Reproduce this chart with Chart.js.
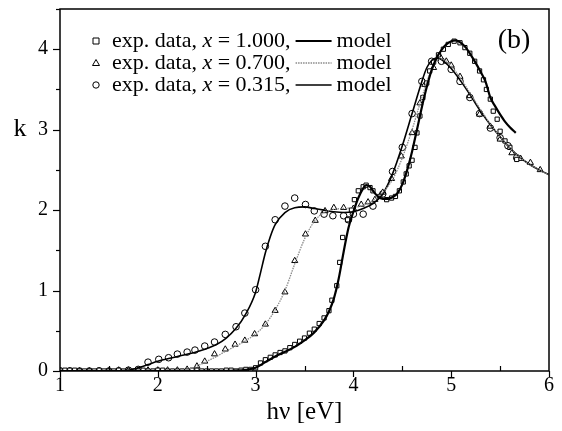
<!DOCTYPE html>
<html>
<head>
<meta charset="utf-8">
<script src="https://cdn.jsdelivr.net/npm/chart.js@4"></script>
<style>
  html, body { margin: 0; padding: 0; background: #fff; }
  #wrap { width: 562px; height: 431px; position: relative; }
</style>
</head>
<body>
<div id="wrap"><canvas id="c" width="562" height="431"></canvas></div>
<script>
// ---------- data ----------
const xTickLabels = ['1', '2', '3', '4', '5', '6'];
const yTickLabels = ['0', '1', '2', '3', '4'];
const legendLabels = ['exp. data, ', 'exp. data, ', 'exp. data, '];
const legendX = ['1.000,', '0.700,', '0.315,'];

// exp. data, x = 1.000 (squares)
const exp100X = [1.00,1.05,1.10,1.15,1.20,1.25,1.30,1.35,1.40,1.45,1.50,1.55,1.60,1.65,1.70,1.75,1.80,1.85,1.90,1.95,2.00,2.05,2.10,2.15,2.20,2.25,2.30,2.35,2.40,2.45,2.50,2.55,2.60,2.65,2.70,2.75,2.80,2.85,2.90,2.95,
  3.00,3.05,3.10,3.15,3.20,3.25,3.30,3.35,3.40,3.45,3.50,3.55,3.60,3.65,3.70,3.75,3.78,3.83,3.86,3.89,3.94,3.98,4.01,4.05,4.10,4.13,4.17,4.20,4.27,4.34,4.39,4.43,4.47,4.51,4.54,4.57,4.60,4.63,4.65,4.68,4.71,4.75,4.78,4.82,4.87,4.92,4.97,5.03,5.09,5.14,5.19,5.24,5.29,5.33,5.36,5.40,5.43,5.47,5.50,5.55,5.60,5.67];
const exp100Y = [0.01,0.01,0.01,0.01,0.0,0.0,0.0,0.0,0.01,0.0,0.0,0.0,0.01,0.0,0.0,0.0,0.0,0.01,0.0,0.0,0.01,0.01,0.0,0.0,0.0,0.0,0.0,0.01,0.01,0.0,0.0,0.0,0.0,0.0,0.01,0.01,0.0,0.01,0.02,0.02,
  0.04,0.10,0.14,0.17,0.20,0.23,0.25,0.29,0.33,0.37,0.41,0.47,0.52,0.59,0.66,0.75,0.88,1.06,1.35,1.66,1.88,2.00,2.13,2.24,2.29,2.31,2.28,2.24,2.17,2.13,2.15,2.17,2.24,2.35,2.45,2.55,2.62,2.78,2.96,3.17,3.40,3.58,3.73,3.84,3.93,4.00,4.06,4.10,4.08,4.02,3.95,3.85,3.73,3.62,3.50,3.38,3.23,3.13,2.98,2.86,2.78,2.63];

// exp. data, x = 0.700 (triangles)
const exp070X = [1.0,1.1,1.2,1.3,1.4,1.5,1.6,1.7,1.8,1.9,2.0,2.1,2.2,2.3,2.40,2.48,2.58,2.69,2.79,2.89,2.99,3.10,3.20,3.30,3.40,3.51,3.61,3.71,3.80,3.90,4.00,4.08,4.15,4.22,4.30,4.39,4.49,4.60,4.68,4.73,4.82,4.89,4.95,5.00,5.09,5.19,5.29,5.40,5.50,5.62,5.71,5.81,5.91];
const exp070Y = [0.0,0.0,0.0,0.0,0.0,0.0,0.01,0.01,0.01,0.01,0.01,0.01,0.01,0.02,0.06,0.12,0.21,0.27,0.33,0.38,0.46,0.58,0.75,0.98,1.37,1.70,1.87,1.99,2.03,2.03,2.02,2.07,2.10,2.13,2.22,2.39,2.67,2.96,3.33,3.56,3.77,3.90,3.85,3.80,3.66,3.42,3.19,3.04,2.88,2.71,2.64,2.59,2.50];

// exp. data, x = 0.315 (circles)
const exp0315X = [1.0,1.1,1.2,1.3,1.4,1.5,1.6,1.7,1.8,1.90,2.01,2.11,2.20,2.30,2.38,2.48,2.58,2.69,2.80,2.89,3.00,3.10,3.20,3.30,3.40,3.51,3.60,3.70,3.79,3.90,3.95,4.00,4.10,4.20,4.30,4.40,4.50,4.60,4.70,4.80,4.90,5.00,5.09,5.19,5.29,5.40,5.50,5.58,5.67];
const exp0315Y = [0.0,0.0,0.0,0.0,0.0,0.0,0.0,0.01,0.02,0.11,0.145,0.165,0.21,0.235,0.26,0.31,0.36,0.455,0.55,0.72,1.01,1.55,1.88,2.05,2.15,2.07,1.99,1.95,1.93,1.93,1.88,1.95,1.95,2.05,2.20,2.48,2.78,3.20,3.60,3.85,3.85,3.75,3.60,3.40,3.20,3.02,2.90,2.80,2.65];

// model, x = 1.000
const model100X = [1.0,1.5,2.0,2.5,2.8,2.9,3.0,3.1,3.2,3.3,3.4,3.5,3.6,3.7,3.75,3.8,3.85,3.9,3.95,4.0,4.05,4.1,4.13,4.17,4.2,4.25,4.3,4.35,4.4,4.45,4.5,4.55,4.6,4.65,4.7,4.75,4.8,4.85,4.9,4.95,5.0,5.05,5.1,5.15,5.2,5.25,5.3,5.35,5.4,5.45,5.5,5.55,5.6,5.66];
const model100Y = [0,0,0,0,0.005,0.015,0.04,0.11,0.18,0.24,0.30,0.38,0.48,0.63,0.74,0.90,1.15,1.48,1.78,1.98,2.15,2.27,2.31,2.29,2.24,2.17,2.14,2.14,2.16,2.21,2.32,2.50,2.73,3.00,3.28,3.53,3.74,3.89,3.99,4.06,4.10,4.11,4.08,4.02,3.93,3.83,3.72,3.60,3.40,3.29,3.19,3.10,3.03,2.96];

// model, x = 0.700
const model070X = [1.0,1.5,2.0,2.3,2.4,2.5,2.6,2.7,2.8,2.9,3.0,3.1,3.2,3.3,3.4,3.5,3.6,3.7,3.8,3.9,4.0,4.1,4.2,4.3,4.4,4.5,4.6,4.7,4.8,4.85,4.9,4.95,5.0,5.1,5.2,5.3,5.4,5.5,5.6,5.7,5.8,5.9,6.0];
const model070Y = [0,0,0.005,0.02,0.06,0.12,0.18,0.25,0.31,0.38,0.46,0.58,0.76,1.0,1.33,1.64,1.86,1.97,2.01,2.02,2.03,2.06,2.12,2.22,2.38,2.65,3.0,3.4,3.75,3.85,3.88,3.85,3.79,3.63,3.44,3.25,3.07,2.91,2.77,2.66,2.57,2.50,2.44];

// model, x = 0.315
const model0315X = [1.0,1.5,1.7,1.8,1.9,2.0,2.2,2.4,2.6,2.7,2.8,2.9,3.0,3.05,3.1,3.15,3.2,3.3,3.4,3.5,3.6,3.7,3.8,3.9,4.0,4.1,4.2,4.3,4.4,4.5,4.6,4.7,4.75,4.8,4.85,4.9,5.0,5.1,5.2,5.3,5.4,5.5,5.6,5.7,5.8,5.9,6.0];
const model0315Y = [0,0,0.01,0.04,0.08,0.12,0.18,0.24,0.33,0.41,0.53,0.71,0.98,1.22,1.47,1.67,1.82,1.97,2.03,2.04,2.02,2.00,1.98,1.97,1.98,2.02,2.08,2.20,2.45,2.80,3.20,3.60,3.77,3.86,3.89,3.87,3.76,3.60,3.42,3.23,3.06,2.91,2.77,2.66,2.57,2.50,2.44];

// ---------- helpers ----------
const zip = (xs, ys) => xs.map((x, i) => ({ x: x, y: ys[i] }));
const SERIF = '"Liberation Serif", "DejaVu Serif", serif';

const expStyle = (style, r) => ({
  showLine: false, pointStyle: style, pointRadius: r, pointHoverRadius: r,
  pointBorderColor: '#000', pointBackgroundColor: '#fff', pointBorderWidth: 1, order: 2
});
const modelStyle = (color, w, dash) => ({
  showLine: true, pointRadius: 0, borderColor: color, borderWidth: w, borderDash: dash,
  cubicInterpolationMode: 'monotone', fill: false, order: 1
});

// ---------- decorations plugin (frame, ticks, legend, labels) ----------
const deco = {
  id: 'deco',
  afterDraw(chart) {
    const { ctx, chartArea: a, scales: { x, y } } = chart;
    ctx.save();
    ctx.strokeStyle = '#000';
    ctx.lineWidth = 1.5;
    ctx.strokeRect(a.left, a.top, a.right - a.left, a.bottom - a.top);
    ctx.lineWidth = 1.2;
    // x ticks
    for (let v = 1; v <= 6.001; v += 0.5) {
      const px = Math.round(x.getPixelForValue(v)) + 0.5;
      const major = Math.abs(v - Math.round(v)) < 1e-6;
      ctx.beginPath();
      if (major) { ctx.moveTo(px, a.bottom); ctx.lineTo(px, a.bottom + 6); }
      else { ctx.moveTo(px, a.bottom); ctx.lineTo(px, a.bottom - 5); }
      ctx.stroke();
    }
    // y ticks
    for (let v = 0; v <= 4.501; v += 0.5) {
      const py = Math.round(y.getPixelForValue(v)) + 0.5;
      const major = Math.abs(v - Math.round(v)) < 1e-6;
      ctx.beginPath();
      ctx.moveTo(a.left, py); ctx.lineTo(a.left - (major ? 7 : 4), py);
      ctx.stroke();
    }
    // y label "k" at the level of 3
    ctx.fillStyle = '#000';
    ctx.font = '26px ' + SERIF;
    ctx.textAlign = 'center';
    ctx.textBaseline = 'middle';
    ctx.fillText('k', 20, y.getPixelForValue(3));
    // panel label
    ctx.font = '28px ' + SERIF;
    ctx.fillText('(b)', 514, 41);
    // legend
    const rows = [41, 63, 85];
    const styles = ['rect', 'triangle', 'circle'];
    const lines = [ ['#000', 2.2, []], ['#8a8a8a', 1.4, [1.5, 1]], ['#000', 1.6, []] ];
    const mx = 96;
    ctx.textAlign = 'left';
    rows.forEach((ry, i) => {
      ctx.fillStyle = '#fff';
      ctx.strokeStyle = '#000';
      ctx.lineWidth = 1;
      ctx.beginPath();
      if (styles[i] === 'rect') ctx.rect(mx - 3, ry - 3, 6, 6);
      else if (styles[i] === 'triangle') { ctx.moveTo(mx, ry - 3.5); ctx.lineTo(mx + 3.5, ry + 2.5); ctx.lineTo(mx - 3.5, ry + 2.5); ctx.closePath(); }
      else ctx.arc(mx, ry, 3.2, 0, Math.PI * 2);
      ctx.fill(); ctx.stroke();
      ctx.fillStyle = '#000';
      let tx = 112;
      ctx.font = '22px ' + SERIF;
      ctx.fillText(legendLabels[i], tx, ry);
      tx += ctx.measureText(legendLabels[i]).width;
      ctx.font = 'italic 22px ' + SERIF;
      ctx.fillText('x', tx, ry);
      tx += ctx.measureText('x').width;
      ctx.font = '22px ' + SERIF;
      const rest = ' = ' + legendX[i];
      ctx.fillText(rest, tx, ry);
      tx += ctx.measureText(rest).width;
      const l = lines[i];
      ctx.strokeStyle = l[0]; ctx.lineWidth = l[1]; ctx.setLineDash(l[2]);
      ctx.beginPath(); ctx.moveTo(tx + 5, ry); ctx.lineTo(tx + 41, ry); ctx.stroke();
      ctx.setLineDash([]);
      ctx.fillText('model', tx + 46, ry);
    });
    ctx.restore();
  }
};

const chart = new Chart(document.getElementById('c'), {
  type: 'scatter',
  data: {
    datasets: [
      Object.assign({ label: 'model x=1.000', data: zip(model100X, model100Y) }, modelStyle('#000', 2.2, [])),
      Object.assign({ label: 'model x=0.700', data: zip(model070X, model070Y) }, modelStyle('#8a8a8a', 1.3, [1.5, 1])),
      Object.assign({ label: 'model x=0.315', data: zip(model0315X, model0315Y) }, modelStyle('#000', 1.6, [])),
      Object.assign({ label: 'exp. data, x = 1.000', data: zip(exp100X, exp100Y) }, expStyle('rect', 3)),
      Object.assign({ label: 'exp. data, x = 0.700', data: zip(exp070X, exp070Y) }, expStyle('triangle', 3.5)),
      Object.assign({ label: 'exp. data, x = 0.315', data: zip(exp0315X, exp0315Y) }, expStyle('circle', 3.3))
    ]
  },
  options: {
    responsive: false,
    animation: false,
    events: [],
    layout: { padding: { left: 0, right: 13, top: 9, bottom: 0 } },
    plugins: { legend: { display: false }, tooltip: { enabled: false } },
    scales: {
      x: {
        type: 'linear', min: 1, max: 6,
        afterFit(s) { s.height = 60; s.paddingLeft = 0; s.paddingRight = 0; },
        grid: { display: false, drawTicks: false, tickLength: 0 },
        border: { display: false },
        ticks: {
          stepSize: 0.5, padding: 3, color: '#000',
          font: { family: SERIF, size: 20 },
          callback(v) { return Number.isInteger(v) ? xTickLabels[v - 1] : ''; },
          maxRotation: 0, autoSkip: false
        },
        title: {
          display: true, text: 'hν [eV]', color: '#000',
          font: { family: SERIF, size: 25 },
          padding: { top: 0, bottom: 4 }
        }
      },
      y: {
        type: 'linear', min: 0, max: 4.5,
        afterFit(s) { s.width = 60; s.paddingTop = 0; s.paddingBottom = 0; },
        grid: { display: false, drawTicks: false, tickLength: 0 },
        border: { display: false },
        ticks: {
          stepSize: 0.5, padding: 12, color: '#000',
          font: { family: SERIF, size: 20 },
          callback(v) { return Number.isInteger(v) ? yTickLabels[v] : ''; },
          autoSkip: false
        }
      }
    }
  },
  plugins: [deco]
});
</script>
</body>
</html>
